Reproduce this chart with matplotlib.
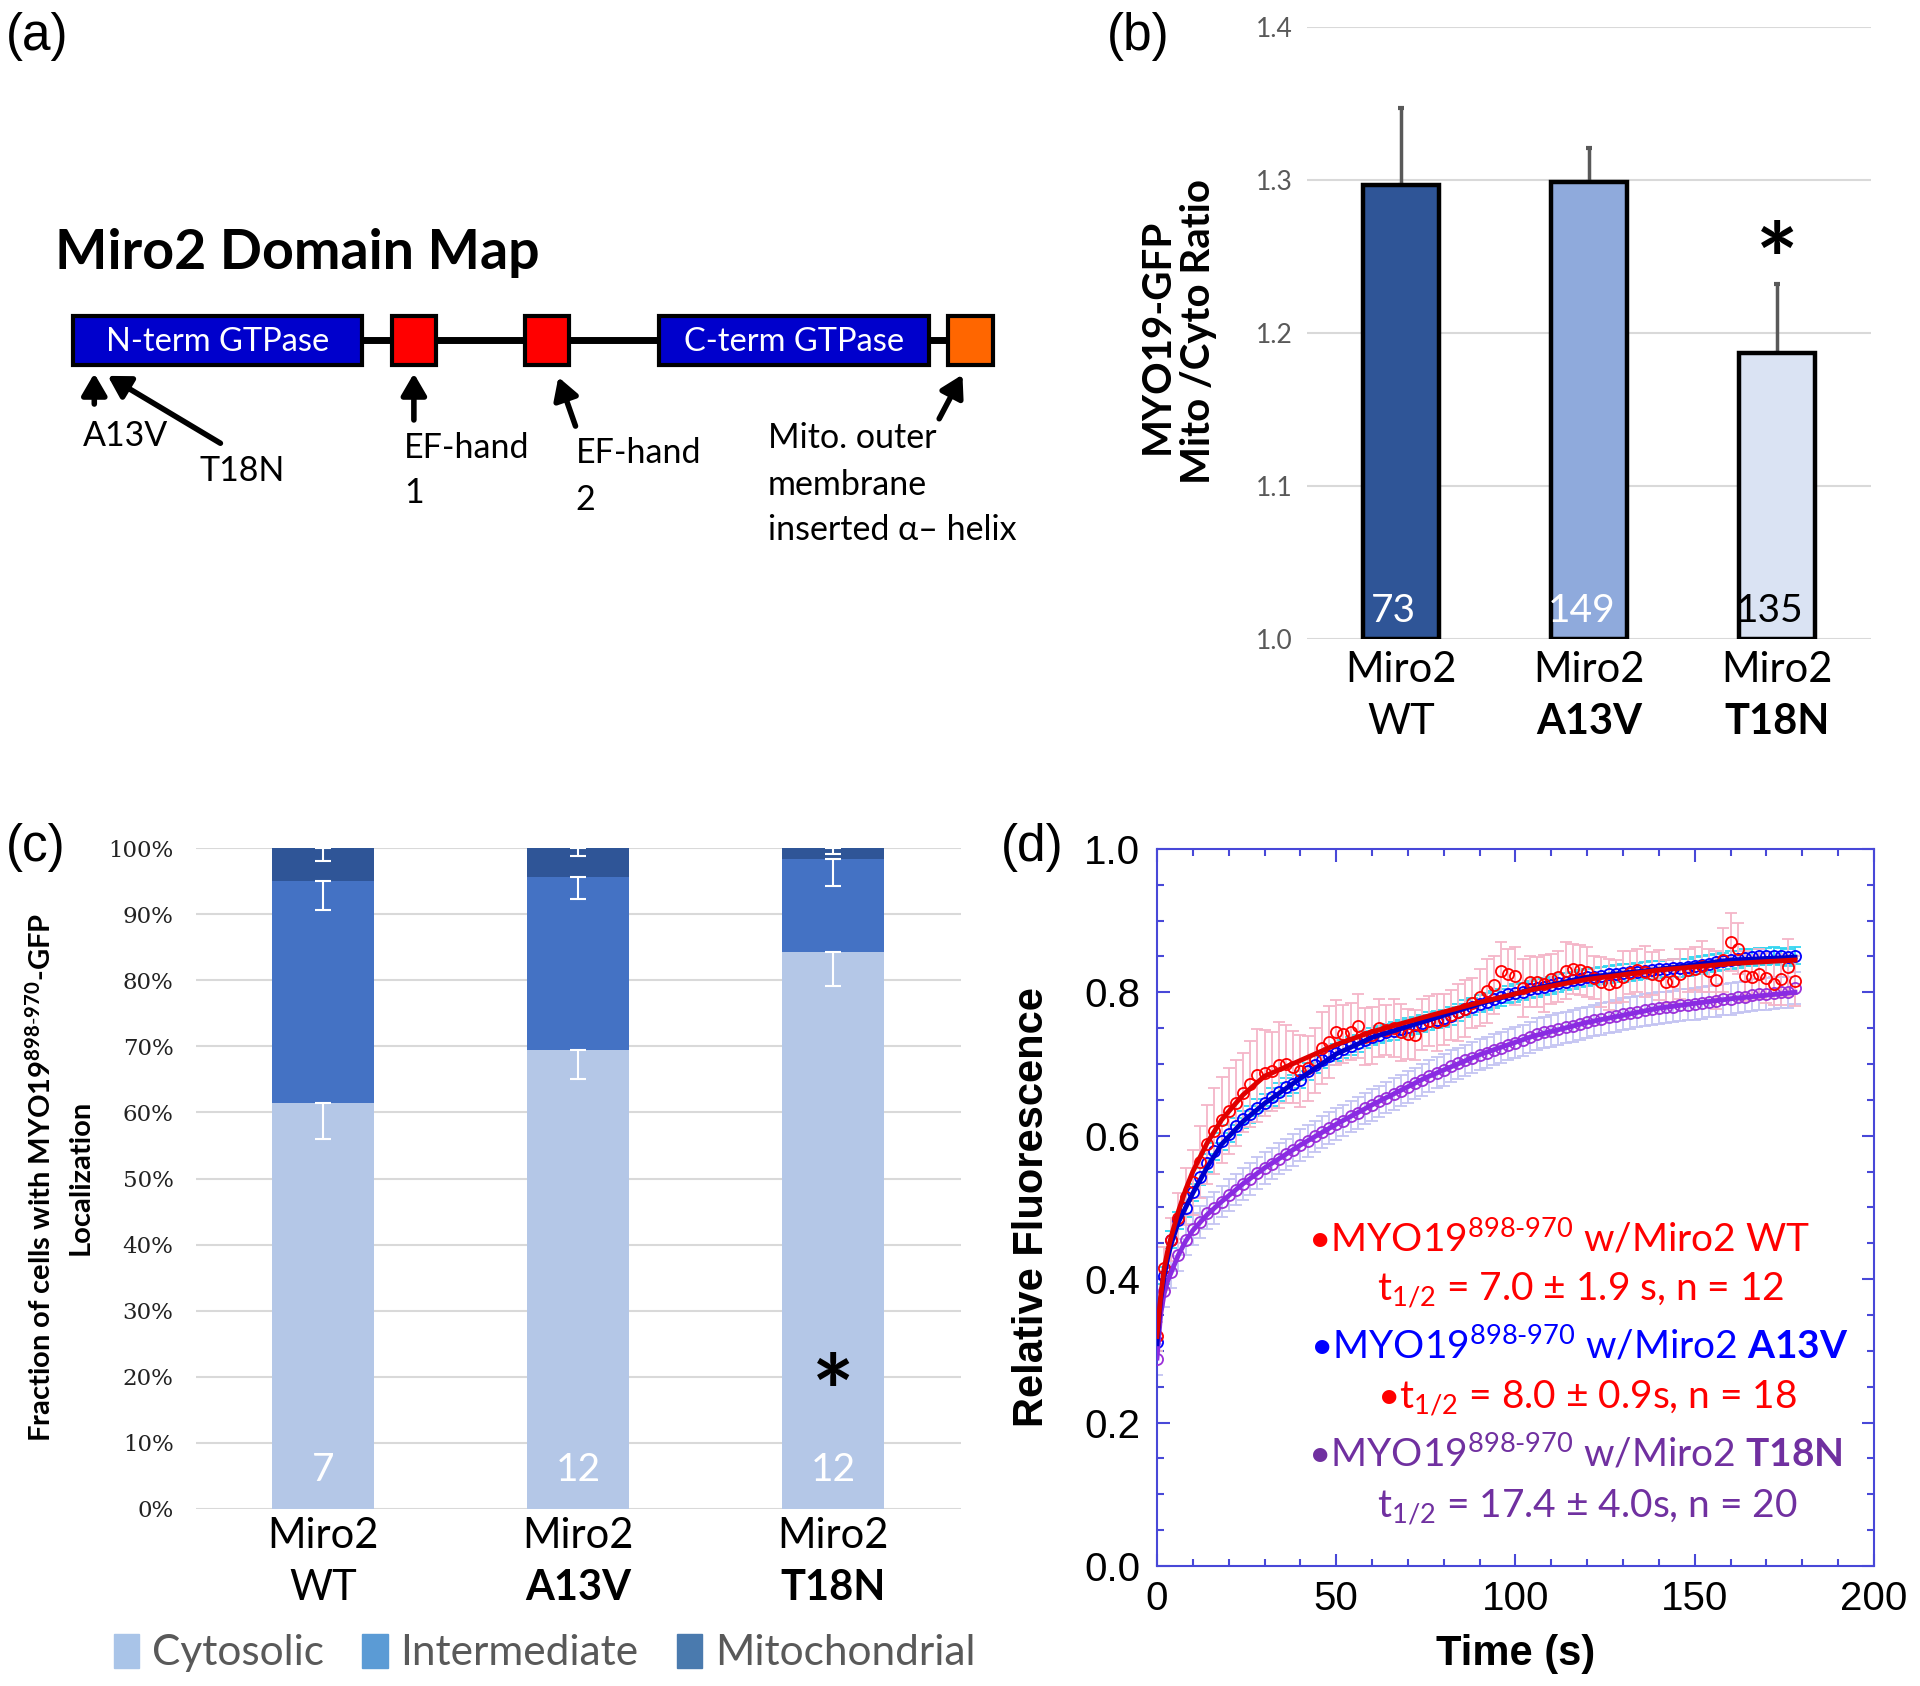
import numpy as np
import matplotlib
matplotlib.use("Agg")
import matplotlib.pyplot as plt
from matplotlib.patches import Rectangle, Patch
from matplotlib.ticker import MultipleLocator, FormatStrFormatter

plt.rcParams['mathtext.fontset'] = 'custom'
plt.rcParams['mathtext.rm'] = 'Lato'
plt.rcParams['mathtext.it'] = 'Lato:italic'
plt.rcParams['mathtext.bf'] = 'Lato:bold'

# ---------------- data ----------------
# (a) schematic domain map (positions along the drawn bar)
domain_names = ['N-term GTPase', '', '', 'C-term GTPase', '']
domain_start = [60, 320, 429, 538, 774]
domain_end = [296, 356, 465, 759, 811]
domain_colors = ['#0000CC', '#FF0000', '#FF0000', '#0000CC', '#FF6600']

# (b) mito / cyto ratio
groups = ['WT', 'A13V', 'T18N']
ratio = [1.297, 1.299, 1.187]
ratio_err = [0.050, 0.022, 0.045]
ratio_n = [73, 149, 135]
ratio_colors = ['#2F5597', '#8FAADC', '#DAE3F3']

# (c) localisation fractions (%)
cyto = [61.5, 69.5, 84.2]
inter = [33.5, 26.1, 14.2]
mito = [5.0, 4.4, 1.6]
cyto_err = [5.5, 4.5, 5.1]
inter_err = [4.3, 3.3, 4.1]
mito_err = [1.9, 1.2, 0.9]
cells_n = [7, 12, 12]

# (d) FRAP recovery
time_s = np.arange(0, 180, 2)
wt = [0.320, 0.415, 0.455, 0.485, 0.515, 0.535, 0.563, 0.588, 0.607, 0.622,
      0.634, 0.645, 0.660, 0.672, 0.684, 0.688, 0.690, 0.698, 0.700, 0.696,
      0.690, 0.694, 0.705, 0.722, 0.731, 0.744, 0.742, 0.745, 0.753, 0.738,
      0.740, 0.750, 0.748, 0.750, 0.744, 0.742, 0.741, 0.755, 0.760, 0.758,
      0.762, 0.768, 0.772, 0.777, 0.785, 0.793, 0.802, 0.810, 0.830, 0.826,
      0.823, 0.806, 0.815, 0.814, 0.812, 0.819, 0.822, 0.830, 0.832, 0.831,
      0.828, 0.820, 0.814, 0.811, 0.815, 0.822, 0.827, 0.831, 0.829, 0.826,
      0.824, 0.815, 0.816, 0.826, 0.831, 0.833, 0.836, 0.830, 0.817, 0.845,
      0.870, 0.861, 0.823, 0.822, 0.825, 0.820, 0.812, 0.818, 0.835, 0.816]
wt_err = [0.020, 0.030, 0.030, 0.035, 0.040, 0.045, 0.050, 0.055, 0.060, 0.060,
          0.060, 0.060, 0.055, 0.060, 0.065, 0.060, 0.055, 0.060, 0.055, 0.050,
          0.050, 0.045, 0.045, 0.050, 0.050, 0.045, 0.040, 0.040, 0.045, 0.040,
          0.040, 0.040, 0.035, 0.040, 0.040, 0.035, 0.035, 0.035, 0.035, 0.040,
          0.035, 0.035, 0.040, 0.040, 0.035, 0.040, 0.045, 0.040, 0.040, 0.035,
          0.040, 0.040, 0.035, 0.035, 0.040, 0.035, 0.035, 0.040, 0.035, 0.035,
          0.035, 0.030, 0.035, 0.035, 0.030, 0.035, 0.030, 0.030, 0.035, 0.030,
          0.035, 0.030, 0.030, 0.035, 0.030, 0.030, 0.035, 0.030, 0.040, 0.045,
          0.040, 0.035, 0.035, 0.030, 0.035, 0.035, 0.030, 0.035, 0.040, 0.035]
a13v = [0.312, 0.405, 0.455, 0.482, 0.499, 0.521, 0.543, 0.562, 0.578, 0.592,
        0.603, 0.613, 0.623, 0.630, 0.639, 0.646, 0.654, 0.661, 0.668, 0.672,
        0.678, 0.690, 0.699, 0.706, 0.711, 0.716, 0.721, 0.725, 0.729, 0.734,
        0.738, 0.741, 0.744, 0.746, 0.749, 0.752, 0.754, 0.757, 0.760, 0.762,
        0.764, 0.767, 0.772, 0.777, 0.780, 0.784, 0.787, 0.790, 0.793, 0.797,
        0.799, 0.801, 0.804, 0.806, 0.808, 0.810, 0.813, 0.815, 0.817, 0.819,
        0.821, 0.822, 0.823, 0.825, 0.826, 0.827, 0.828, 0.829, 0.830, 0.831,
        0.832, 0.833, 0.834, 0.834, 0.835, 0.837, 0.838, 0.840, 0.842, 0.843,
        0.845, 0.846, 0.848, 0.849, 0.850, 0.850, 0.851, 0.850, 0.849, 0.851]
a13v_err = [0.012] * 90
t18n = [0.288, 0.383, 0.410, 0.434, 0.455, 0.470, 0.480, 0.492, 0.499, 0.508,
        0.517, 0.525, 0.533, 0.540, 0.548, 0.555, 0.561, 0.568, 0.574, 0.580,
        0.587, 0.593, 0.599, 0.605, 0.611, 0.616, 0.621, 0.627, 0.632, 0.638,
        0.643, 0.648, 0.653, 0.658, 0.663, 0.668, 0.673, 0.678, 0.683, 0.688,
        0.692, 0.697, 0.701, 0.705, 0.709, 0.713, 0.716, 0.720, 0.723, 0.727,
        0.730, 0.733, 0.737, 0.742, 0.744, 0.746, 0.749, 0.751, 0.753, 0.756,
        0.758, 0.761, 0.763, 0.765, 0.767, 0.770, 0.771, 0.773, 0.775, 0.777,
        0.778, 0.779, 0.780, 0.782, 0.783, 0.784, 0.785, 0.787, 0.788, 0.790,
        0.791, 0.793, 0.794, 0.796, 0.797, 0.798, 0.799, 0.800, 0.800, 0.806]
t18n_err = [0.022] * 90

fit_t = [0, 1, 2, 3, 4, 6, 8, 10, 14, 18, 24, 30, 40, 50, 60, 75, 90, 105, 120, 140, 160, 178]
wt_fit = [0.32, 0.375, 0.415, 0.44, 0.46, 0.495, 0.525, 0.55, 0.59, 0.622, 0.657, 0.683,
          0.705, 0.727, 0.745, 0.766, 0.786, 0.804, 0.818, 0.831, 0.840, 0.845]
a13v_fit = [0.31, 0.37, 0.405, 0.43, 0.45, 0.48, 0.50, 0.52, 0.556, 0.588, 0.62, 0.645,
            0.68, 0.714, 0.737, 0.76, 0.784, 0.805, 0.821, 0.832, 0.845, 0.849]
t18n_fit = [0.29, 0.35, 0.38, 0.398, 0.41, 0.434, 0.453, 0.468, 0.49, 0.508, 0.533, 0.555,
            0.587, 0.616, 0.643, 0.681, 0.713, 0.739, 0.758, 0.778, 0.791, 0.800]

CAL = 'Lato'
ARIAL = 'Liberation Sans'

fig = plt.figure(figsize=(19.2, 16.86), dpi=100)

# overlay in (shrunk) pixel units for panel (a) and panel letters
ov = fig.add_axes([0, 0, 1, 1])
ov.set_xlim(0, 1568)
ov.set_ylim(1377, 0)
ov.axis('off')

for lab, x, y in [('(a)', 5, 30), ('(b)', 904, 30), ('(c)', 5, 692), ('(d)', 817, 692)]:
    ov.text(x, y, lab, fontsize=37, family=ARIAL, ha='left', va='center')

# ---- (a) ----
ov.text(45, 207, 'Miro2 Domain Map', fontsize=40, family=CAL, weight='bold', ha='left', va='center')
ov.plot([domain_end[0], domain_start[-1]], [278, 278], color='black', lw=5, zorder=1)
for nm, s, e, c in zip(domain_names, domain_start, domain_end, domain_colors):
    ov.add_patch(Rectangle((s, 258), e - s, 40, facecolor=c, edgecolor='black', lw=3, zorder=2))
    if nm:
        ov.text((s + e) / 2, 279, nm, color='white', fontsize=23.5, family=CAL, ha='center', va='center', zorder=3)

arrows = [((77, 305), (77, 330)), ((88, 307), (180, 362)), ((338, 305), (338, 343)),
          ((456, 308), (470, 348)), ((786, 306), (767, 342))]
for tip, tail in arrows:
    ov.annotate('', xy=tip, xytext=tail,
                arrowprops=dict(arrowstyle='-|>,head_length=0.65,head_width=0.38', lw=4,
                                color='black', shrinkA=0, shrinkB=0, mutation_scale=20))
alab = [('A13V', 68, 356), ('T18N', 163, 385), ('EF-hand', 330, 366), ('1', 330, 403),
        ('EF-hand', 470, 370), ('2', 470, 408), ('Mito. outer', 627, 358),
        ('membrane', 627, 396), ('inserted \u03b1\u2013 helix', 627, 433)]
for t, x, y in alab:
    ov.text(x, y, t, fontsize=24.5, family=CAL, ha='left', va='center')

# ---- (b) ----
axb = fig.add_axes([0.6807, 0.621, 0.2938, 0.363])
xb = np.arange(len(groups))
axb.bar(xb, np.array(ratio) - 1.0, bottom=1.0, width=0.4, color=ratio_colors,
        edgecolor='black', lw=3.2, zorder=3)
axb.errorbar(xb, ratio, yerr=[np.zeros(3), ratio_err], fmt='none', ecolor='#595959',
             elinewidth=2.5, capsize=2, capthick=3, zorder=2)
axb.set_xlim(-0.5, 2.5)
axb.set_ylim(1.0, 1.4)
axb.set_yticks([1.0, 1.1, 1.2, 1.3, 1.4])
axb.yaxis.set_major_formatter(FormatStrFormatter('%.1f'))
axb.set_xticks([])
axb.grid(axis='y', color='#D9D9D9', lw=1.5, zorder=0)
axb.set_axisbelow(True)
for sp in axb.spines.values():
    sp.set_visible(False)
axb.tick_params(axis='y', length=0, pad=10, labelsize=19, labelcolor='#595959')
for lb in axb.get_yticklabels():
    lb.set_family(CAL)
ncol = ['white', 'white', 'black']
for i in range(3):
    axb.text(xb[i] - 0.04, 1.018, str(ratio_n[i]), ha='center', va='center', fontsize=28,
             family=CAL, color=ncol[i], zorder=4)
    axb.text(xb[i], -0.05, 'Miro2', transform=axb.get_xaxis_transform(), ha='center',
             va='center', fontsize=30, family=CAL)
    axb.text(xb[i], -0.136, groups[i], transform=axb.get_xaxis_transform(), ha='center',
             va='center', fontsize=30, family=CAL, weight='normal' if i == 0 else 'bold')
axb.text(xb[2], 1.243, '*', ha='center', va='center', fontsize=72, family=CAL, weight='bold')
ov.text(945, 275, 'MYO19-GFP', rotation=90, ha='center', va='center', fontsize=29,
        family=CAL, weight='bold')
ov.text(979, 271, 'Mito /Cyto Ratio', rotation=90, ha='center', va='center', fontsize=29,
        family=CAL, weight='bold')

# ---- (c) ----
axc = fig.add_axes([0.102, 0.105, 0.3984, 0.392])
xc = np.arange(len(groups))
cy = np.array(cyto)
it = np.array(inter)
mt = np.array(mito)
axc.bar(xc, cy, width=0.4, color='#B4C7E7', zorder=3)
axc.bar(xc, it, bottom=cy, width=0.4, color='#4472C4', zorder=3)
axc.bar(xc, mt, bottom=cy + it, width=0.4, color='#2F5597', zorder=3)
for top, er in [(cy, cyto_err), (cy + it, inter_err), (cy + it + mt, mito_err)]:
    axc.errorbar(xc, top, yerr=[er, np.zeros(3)], fmt='none', ecolor='white',
                 elinewidth=1.5, capsize=6, capthick=1.5, zorder=4)
axc.set_xlim(-0.5, 2.5)
axc.set_ylim(0, 100)
axc.set_yticks(np.arange(0, 101, 10))
axc.set_yticklabels(['%d%%' % v for v in range(0, 101, 10)])
axc.set_xticks([])
axc.grid(axis='y', color='#D9D9D9', lw=1.5, zorder=0)
axc.set_axisbelow(True)
for sp in axc.spines.values():
    sp.set_visible(False)
axc.tick_params(axis='y', length=0, pad=16, labelsize=16.5, labelcolor='#222222')
for lb in axc.get_yticklabels():
    lb.set_family('DejaVu Serif')
for i in range(3):
    axc.text(xc[i], 5.9, str(cells_n[i]), ha='center', va='center', fontsize=28,
             family=CAL, color='white', zorder=5)
    axc.text(xc[i], -0.041, 'Miro2', transform=axc.get_xaxis_transform(), ha='center',
             va='center', fontsize=30, family=CAL)
    axc.text(xc[i], -0.119, groups[i], transform=axc.get_xaxis_transform(), ha='center',
             va='center', fontsize=30, family=CAL, weight='normal' if i == 0 else 'bold')
axc.text(xc[2], 16.5, '*', ha='center', va='center', fontsize=72, family=CAL,
         weight='bold', zorder=5)
handles = [Patch(color='#A9C4E8', label='Cytosolic'),
           Patch(color='#5B9BD5', label='Intermediate'),
           Patch(color='#4A7AAE', label='Mitochondrial')]
axc.legend(handles=handles, loc='center', bbox_to_anchor=(0.456, -0.218), ncol=3,
           frameon=False, prop={'family': CAL, 'size': 30.5}, labelcolor='#595959',
           handlelength=0.6, handleheight=0.85, handletextpad=0.3, columnspacing=0.9)
ov.text(33, 962, 'Fraction of cells with MYO19$^{\\mathbf{898\\text{-}970}}$-GFP', rotation=90,
        ha='center', va='center', fontsize=21, family=CAL, weight='bold')
ov.text(66, 962, 'Localization', rotation=90, ha='center', va='center', fontsize=21,
        family=CAL, weight='bold')

# ---- (d) ----
axd = fig.add_axes([0.6026, 0.0712, 0.3734, 0.4253])
spine_c = '#4848D8'
series = [(t18n, t18n_err, '#9B30D9', '#C4C4F2', t18n_fit, '#8A2BE2'),
          (a13v, a13v_err, '#0000FF', '#33D6F0', a13v_fit, '#0000CC'),
          (wt, wt_err, '#FF0000', '#F5B5C8', wt_fit, '#E00000')]
for vals, errs, mc, ec, fit, fc in series:
    axd.errorbar(time_s, vals, yerr=errs, fmt='none', ecolor=ec, elinewidth=1.3,
                 capsize=4, capthick=1.3, zorder=2)
for vals, errs, mc, ec, fit, fc in series:
    axd.plot(time_s, vals, 'o', mfc='none', mec=mc, ms=8, mew=1.3, zorder=3)
for vals, errs, mc, ec, fit, fc in series:
    axd.plot(fit_t, fit, '-', color=fc, lw=3.5, zorder=4)
axd.set_xlim(0, 200)
axd.set_ylim(0, 1.0)
axd.xaxis.set_major_locator(MultipleLocator(50))
axd.xaxis.set_minor_locator(MultipleLocator(10))
axd.yaxis.set_major_locator(MultipleLocator(0.2))
axd.yaxis.set_minor_locator(MultipleLocator(0.05))
axd.yaxis.set_major_formatter(FormatStrFormatter('%.1f'))
for sp in axd.spines.values():
    sp.set_color(spine_c)
    sp.set_linewidth(1.5)
axd.tick_params(which='both', direction='in', top=True, right=True, color=spine_c, width=1.5)
axd.tick_params(which='major', length=9, labelsize=29)
axd.tick_params(which='minor', length=5)
axd.tick_params(axis='x', pad=10)
axd.tick_params(axis='y', pad=12)
for lb in axd.get_xticklabels() + axd.get_yticklabels():
    lb.set_family(ARIAL)
axd.text(0.5, -0.1226, 'Time (s)', transform=axd.transAxes, ha='center', va='center',
         fontsize=30, family=ARIAL, weight='bold')
axd.text(-0.174, 0.5, 'Relative Fluorescence', transform=axd.transAxes, rotation=90,
         ha='center', va='center', fontsize=30, family=ARIAL, weight='bold')

sup = '$^{898\\text{-}970}$'
legend_lines = [
    ('\u2022MYO19' + sup + ' w/Miro2 WT', 0.210, 0.457, '#FF0000'),
    ('t$_{1/2}$ = 7.0 \u00b1 1.9 s, n = 12', 0.307, 0.384, '#FF0000'),
    ('\u2022MYO19' + sup + ' w/Miro2 $\\mathbf{A13V}$', 0.213, 0.307, '#0000FF'),
    ('\u2022t$_{1/2}$ = 8.0 \u00b1 0.9s, n = 18', 0.307, 0.234, '#FF0000'),
    ('\u2022MYO19' + sup + ' w/Miro2 $\\mathbf{T18N}$', 0.210, 0.157, '#7030A0'),
    ('t$_{1/2}$ = 17.4 \u00b1 4.0s, n = 20', 0.307, 0.082, '#7030A0'),
]
for txt, x, y, c in legend_lines:
    axd.text(x, y, txt, transform=axd.transAxes, ha='left', va='center', fontsize=28,
             family=CAL, color=c, zorder=6)

fig.savefig('out.png', dpi=100)
